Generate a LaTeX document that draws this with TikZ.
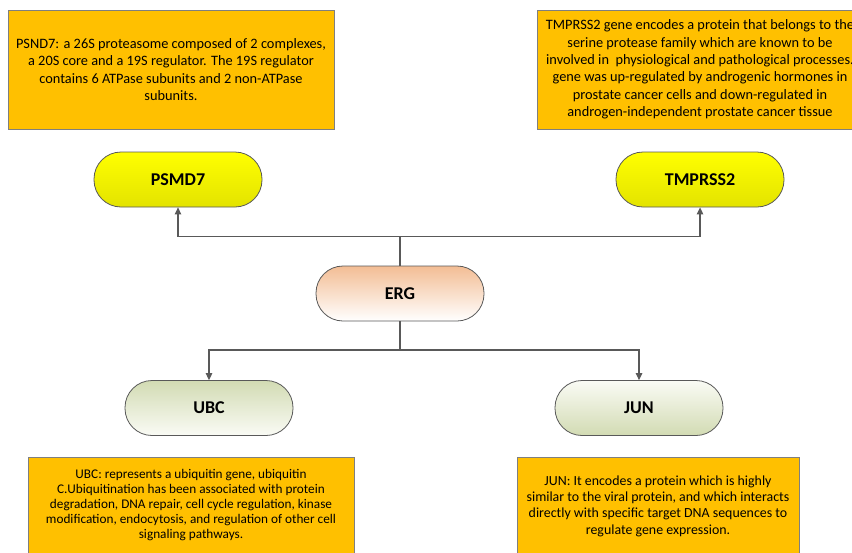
\documentclass[tikz,border=0pt]{standalone}
\usepackage{fontspec}
\setmainfont{Carlito}
\usetikzlibrary{arrows.meta}
\definecolor{boxfill}{HTML}{FFC000}
\definecolor{boxline}{HTML}{7F7F7F}
\definecolor{pillline}{HTML}{595959}
\definecolor{conn}{HTML}{595959}
\definecolor{ytop}{HTML}{FFFF00}
\definecolor{ybot}{HTML}{E3E300}
\definecolor{peach}{HTML}{F3BD94}
\definecolor{olive}{HTML}{D2DBB3}
\definecolor{olivelight}{HTML}{FAFBF5}
\tikzset{
  infobox/.style={draw=boxline, line width=0.8pt, fill=boxfill, align=center,
    minimum width=326pt, minimum height=119pt, inner sep=0pt},
  toptext/.style={font=\fontsize{14.35}{17.4}\selectfont},
  ubctext/.style={font=\fontsize{13.25}{15.2}\selectfont},
  juntext/.style={font=\fontsize{13.9}{16.3}\selectfont},
  pill/.style={draw=pillline, line width=0.8pt, rounded corners=27pt,
    minimum width=168pt, minimum height=55pt, inner sep=0pt,
    font=\fontsize{18}{20}\selectfont\bfseries},
  yellowpill/.style={pill, top color=ytop, bottom color=ybot},
  ergpill/.style={pill, top color=peach, bottom color=white},
  ubcpill/.style={pill, top color=olive, bottom color=olivelight},
  junpill/.style={pill, top color=olivelight, bottom color=olive},
  conline/.style={draw=conn, line width=1.3pt},
  arr/.style={conline, -{Triangle[width=6.5pt,length=7pt]}}
}
\begin{document}
\begin{tikzpicture}[x=1pt,y=-1pt]
\useasboundingbox (0,0) rectangle (852,552);
\clip (0,0) rectangle (852,552);
% info boxes
\node[infobox, toptext] (psmdinfo) at (171,69.5) {PSND7: a 26S proteasome composed of 2 complexes,\\a 20S core and a 19S regulator. The 19S regulator\\contains 6 ATPase subunits and 2 non-ATPase\\subunits.};
\node[infobox, toptext] (tmpinfo) at (700,69.5) {TMPRSS2 gene encodes a protein that belongs to the\\serine protease family which are known to be\\involved in\ \ physiological and pathological processes.\\gene was up-regulated by androgenic hormones in\\prostate cancer cells and down-regulated in\\androgen-independent prostate cancer tissue};
\node[infobox, ubctext, minimum height=96pt] (ubcinfo) at (191,505) {UBC: represents a ubiquitin gene, ubiquitin\\C.Ubiquitination has been associated with protein\\degradation, DNA repair, cell cycle regulation, kinase\\modification, endocytosis, and regulation of other cell\\signaling pathways.};
\node[infobox, juntext, minimum width=282pt, minimum height=98pt] (juninfo) at (658,506) {JUN: It encodes a protein which is highly\\similar to the viral protein, and which interacts\\directly with specific target DNA sequences to\\regulate gene expression.};
% pills
\node[yellowpill] (psmd) at (178,179.5) {PSMD7};
\node[yellowpill] (tmp) at (700,179.5) {TMPRSS2};
\node[ergpill] (erg) at (400,293.5) {ERG};
\node[ubcpill] (ubc) at (209,408) {UBC};
\node[junpill] (jun) at (639,408) {JUN};
% connectors
\coordinate (jtop) at (400,236.5);
\coordinate (jbot) at (400,350);
\draw[conline] (erg.north) -- (jtop);
\draw[arr] (jtop) -| (psmd.south);
\draw[arr] (jtop) -| (tmp.south);
\draw[conline] (erg.south) -- (jbot);
\draw[arr] (jbot) -| (ubc.north);
\draw[arr] (jbot) -| (jun.north);
\end{tikzpicture}
\end{document}
